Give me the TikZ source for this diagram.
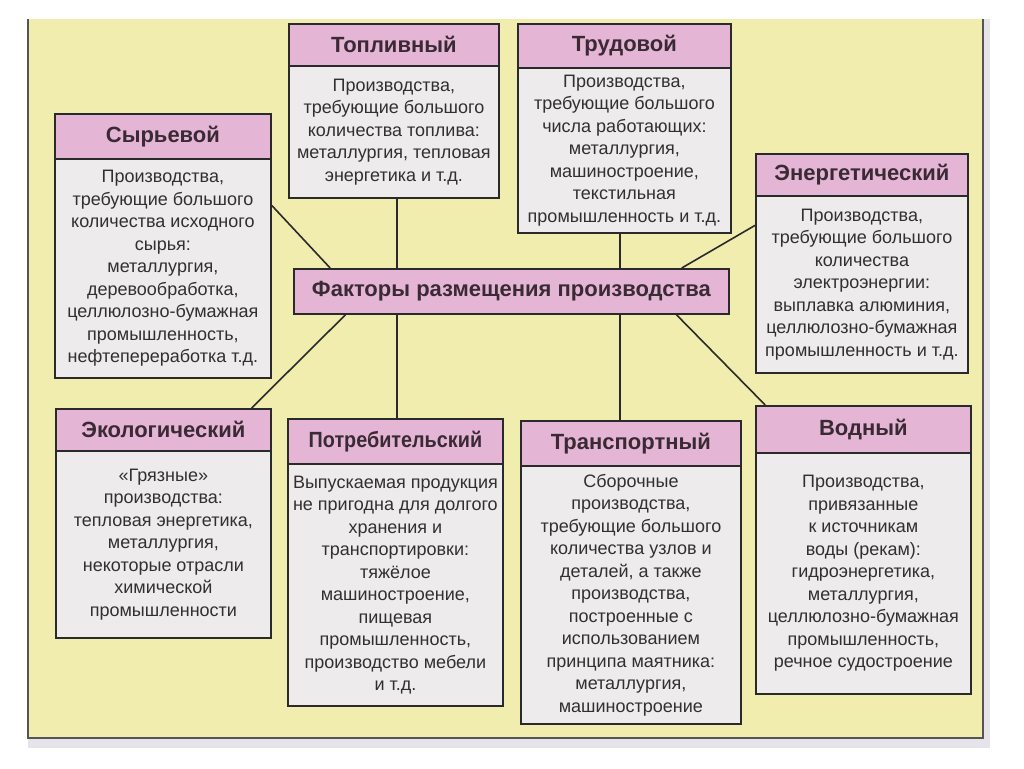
\documentclass[tikz,border=0pt]{standalone}
\usepackage{fontspec}
\setmainfont{Liberation Sans}
\usetikzlibrary{calc}
\definecolor{bgy}{HTML}{F0EDAE}
\definecolor{pinkh}{HTML}{E5B5D5}
\definecolor{bodyc}{HTML}{EDEBEB}
\definecolor{bord}{HTML}{2A2A2A}
\definecolor{btext}{HTML}{303030}
\definecolor{htext}{HTML}{3A2A35}
\definecolor{strip}{HTML}{E6E4EA}
\tikzset{
  hdr/.style={draw=bord, line width=1.8pt, fill=pinkh, text=htext,
    font=\bfseries\fontsize{22}{24}\selectfont, anchor=north west, inner sep=0pt},
  bdy/.style={draw=bord, line width=1.8pt, fill=bodyc, text=btext,
    font=\fontsize{18}{22.5}\selectfont, align=center, anchor=north west, inner sep=0pt},
  conn/.style={draw=bord, line width=1.6pt}
}
\begin{document}
\begin{tikzpicture}[x=1pt,y=-1pt]
\useasboundingbox (0,0) rectangle (1024,768);
% background sheet
\fill[strip] (28,19) rectangle (990,748);
\fill[bgy] (28,19) rectangle (983,738);
\draw[bord!80, line width=1.2pt] (28,19) -- (28,738) -- (983,738) -- (983,19);

% centre node
\node[hdr, minimum width=435pt, minimum height=45pt] (fak) at (293,268) {Факторы размещения производства};

% Сырьевой
\node[hdr, minimum width=216pt, minimum height=45pt] (syrh) at (54,113) {Сырьевой};
\node[bdy, minimum width=216pt, minimum height=219pt] (syr) at (54,158) {Производства,\\требующие большого\\количества исходного\\сырья:\\металлургия,\\деревообработка,\\целлюлозно-бумажная\\промышленность,\\нефтепереработка т.д.};

% Топливный
\node[hdr, minimum width=210pt, minimum height=42pt] (toph) at (288,23) {Топливный};
\node[bdy, minimum width=210pt, minimum height=132pt] (top) at (288,65) {Производства,\\требующие большого\\количества топлива:\\металлургия, тепловая\\энергетика и т.д.};

% Трудовой
\node[hdr, minimum width=213pt, minimum height=44pt] (truh) at (517,23) {Трудовой};
\node[bdy, minimum width=213pt, minimum height=165pt] (tru) at (517,67) {Производства,\\требующие большого\\числа работающих:\\металлургия,\\машиностроение,\\текстильная\\промышленность и т.д.};

% Энергетический
\node[hdr, minimum width=212pt, minimum height=42pt] (eneh) at (755,153) {Энергетический};
\node[bdy, minimum width=212pt, minimum height=177pt] (ene) at (755,195) {Производства,\\требующие большого\\количества\\электроэнергии:\\выплавка алюминия,\\целлюлозно-бумажная\\промышленность и т.д.};

% Экологический
\node[hdr, minimum width=215pt, minimum height=42pt] (ekoh) at (55,408) {Экологический};
\node[bdy, minimum width=215pt, minimum height=187pt] (eko) at (55,450) {«Грязные»\\производства:\\тепловая энергетика,\\металлургия,\\некоторые отрасли\\химической\\промышленности};

% Потребительский
\node[hdr, minimum width=215pt, minimum height=45pt] (poth) at (287,418) {\scalebox{0.9}[1]{Потребительский}};
\node[bdy, minimum width=215pt, minimum height=242pt] (pot) at (287,463) {Выпускаемая продукция\\не пригодна для долгого\\хранения и\\транспортировки:\\тяжёлое\\машиностроение,\\пищевая\\промышленность,\\производство мебели\\и т.д.};

% Транспортный
\node[hdr, minimum width=220pt, minimum height=45pt] (trah) at (520,420) {Транспортный};
\node[bdy, minimum width=220pt, minimum height=258pt] (tra) at (520,465) {Сборочные\\производства,\\требующие большого\\количества узлов и\\деталей, а также\\производства,\\построенные с\\использованием\\принципа маятника:\\металлургия,\\машиностроение};

% Водный
\node[hdr, minimum width=215pt, minimum height=47pt] (vodh) at (755,405) {Водный};
\node[bdy, minimum width=215pt, minimum height=241pt] (vod) at (755,452) {Производства,\\привязанные\\к источникам\\воды (рекам):\\гидроэнергетика,\\металлургия,\\целлюлозно-бумажная\\промышленность,\\речное судостроение};

% connector guide coordinates
\coordinate (vl) at (397,0);
\coordinate (vr) at (620,0);

% connectors
\draw[conn] ($(syr.north east)!0.215!(syr.south east)$) -- ($(fak.north west)!0.085!(fak.north east)$);
\draw[conn] (top.south -| vl) -- (fak.north -| vl);
\draw[conn] (tru.south -| vr) -- (fak.north -| vr);
\draw[conn] ($(fak.north west)!0.89!(fak.north east)$) -- ($(ene.north west)!0.17!(ene.south west)$);
\draw[conn] ($(fak.south west)!0.12!(fak.south east)$) -- ($(ekoh.north west)!0.907!(ekoh.north east)$);
\draw[conn] (fak.south -| vl) -- (poth.north -| vl);
\draw[conn] (fak.south -| vr) -- (trah.north -| vr);
\draw[conn] ($(fak.south west)!0.878!(fak.south east)$) -- ($(vodh.north west)!0.047!(vodh.north east)$);
\end{tikzpicture}
\end{document}
